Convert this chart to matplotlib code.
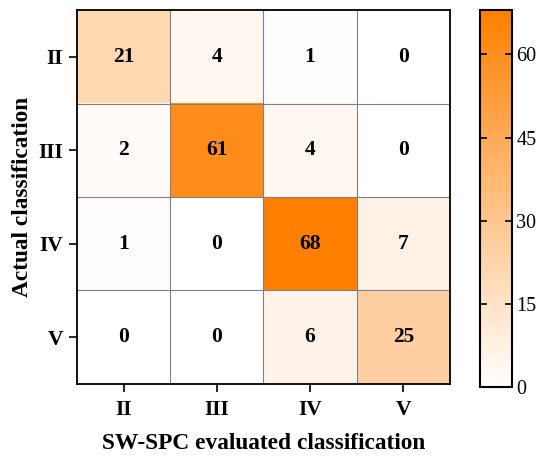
import numpy as np
import matplotlib
matplotlib.use("Agg")
from matplotlib import pyplot as plt
from matplotlib.colors import LinearSegmentedColormap

classes = ["II", "III", "IV", "V"]
counts = np.array([
    [21, 4, 1, 0],
    [2, 61, 4, 0],
    [1, 0, 68, 7],
    [0, 0, 6, 25],
])
cbar_ticks = [0, 15, 30, 45, 60]

plt.rcParams["font.family"] = ["Liberation Serif", "DejaVu Serif"]

cmap = LinearSegmentedColormap.from_list("wo", ["#ffffff", "#ff7f00"])

fig = plt.figure(figsize=(5.5, 4.58), dpi=100)
ax = fig.add_axes([0.14, 0.162, 0.678, 0.816])
cax = fig.add_axes([0.873, 0.155, 0.058, 0.823])

im = ax.imshow(counts, cmap=cmap, vmin=0, vmax=68, aspect="auto")

# thin grey grid between cells
for k in range(1, len(classes)):
    ax.axhline(k - 0.5, color="#808080", lw=0.8)
    ax.axvline(k - 0.5, color="#808080", lw=0.8)

for i in range(counts.shape[0]):
    for j in range(counts.shape[1]):
        ax.text(j, i, str(counts[i, j]), ha="center", va="center",
                fontsize=15.5, fontweight="bold", color="black")

ax.set_xticks(range(len(classes)))
ax.set_yticks(range(len(classes)))
ax.set_xticklabels(classes, fontsize=15.5, fontweight="bold")
ax.set_yticklabels(classes, fontsize=15.5, fontweight="bold")
ax.tick_params(direction="out", length=6, width=1.2, color="black", pad=4)
ax.tick_params(axis="x", pad=6)
for s in ax.spines.values():
    s.set_linewidth(1.3)

ax.set_xlabel("SW-SPC evaluated classification", fontsize=16.8, fontweight="bold", labelpad=9)
ax.set_ylabel("Actual classification", fontsize=16.8, fontweight="bold", labelpad=4)

cb = fig.colorbar(im, cax=cax, ticks=cbar_ticks)
cb.outline.set_linewidth(1.5)
cax.tick_params(direction="in", length=5, width=1.2, left=True, right=True,
                labelsize=14.5, pad=3)

fig.savefig("out.png", dpi=100)
